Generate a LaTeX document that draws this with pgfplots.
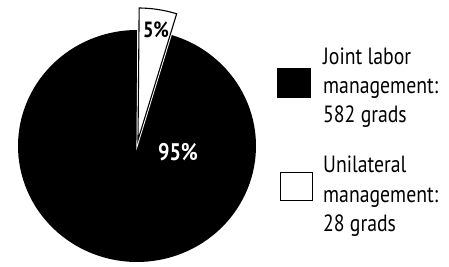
\documentclass[border=0pt]{standalone}
\usepackage{pgfplots}
\usepackage{pgfplotstable}
\pgfplotsset{compat=1.18}
\usepackage{fontspec}
\setmainfont[FakeStretch=0.84]{PT Sans}

\pgfplotstableread{
label value
Joint 582
Unilateral 28
}\piedata

\begin{document}
\begin{tikzpicture}
\pgfplotstablegetelem{0}{value}\of\piedata \let\vJ\pgfplotsretval
\pgfplotstablegetelem{1}{value}\of\piedata \let\vU\pgfplotsretval
\pgfmathsetmacro\angU{360*\vU/(\vJ+\vU)}
\pgfmathsetmacro\darkEnd{90+360-\angU}
\pgfmathsetmacro\whiteStart{89.5-\angU}
\begin{axis}[
  scale only axis, width=449pt, height=267pt,
  xmin=0, xmax=449, ymin=0, ymax=267,
  hide axis, clip=false,
]
% dark sector (Joint labor management)
\addplot[fill=black, draw=none, domain=90:\darkEnd, samples=120, variable=\t]
  ({137+119*cos(t)}, {121+116*sin(t)}) -- (axis cs:137,121) -- cycle;
% white exploded sector (Unilateral management)
\addplot[fill=white, draw=white, line width=3pt, domain=\whiteStart:89.5, samples=30, variable=\t]
  ({138+132*cos(t)}, {127+132*sin(t)}) -- (axis cs:138,127) -- cycle;
\addplot[fill=white, draw=black, line width=1.1pt, domain=\whiteStart:89.5, samples=30, variable=\t]
  ({138+132*cos(t)}, {127+132*sin(t)}) -- (axis cs:138,127) -- cycle;
% labels
\node[font=\fontsize{24}{28}\selectfont\bfseries, text=white, inner sep=0] at (axis cs:178,115) {95\%};
\node[font=\fontsize{22}{26}\selectfont\bfseries, text=black, inner sep=0] at (axis cs:156,237) {5\%};
% legend
\addplot[fill=black, draw=black, line width=0.6pt] coordinates {(277,170) (310,170) (310,199) (277,199)} -- cycle;
\addplot[fill=white, draw=black, line width=0.8pt] coordinates {(280,67) (312,67) (312,95) (280,95)} -- cycle;
\begin{scope}[every node/.style={font=\fontsize{23.5}{29}\selectfont, anchor=base west, inner sep=0}]
\node at (axis cs:323,202) {Joint labor};
\node at (axis cs:323,173) {management:};
\node at (axis cs:323,144) {582 grads};
\node at (axis cs:323,94) {Unilateral};
\node at (axis cs:323,64) {management:};
\node at (axis cs:323,35) {28 grads};
\end{scope}
\end{axis}
\pgfresetboundingbox
\path (current axis.south west) rectangle (current axis.north east);
\end{tikzpicture}
\end{document}
